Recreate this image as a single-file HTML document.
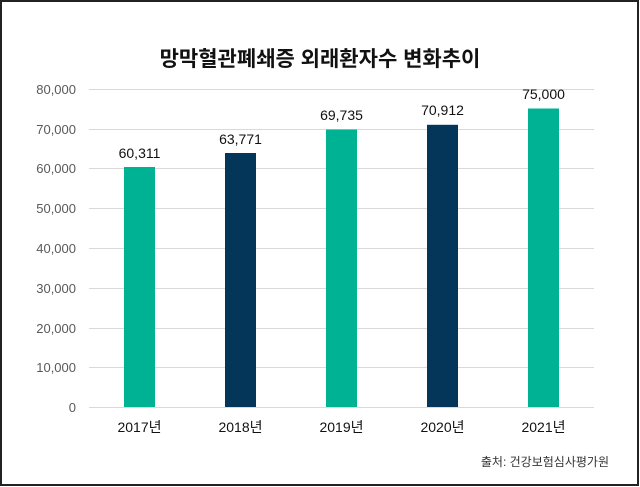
<!DOCTYPE html>
<html><head><meta charset="utf-8"><style>
html,body{margin:0;padding:0;background:#fff}
svg{display:block}
text{font-family:"Liberation Sans","Noto Sans CJK KR",sans-serif}
</style></head><body>
<svg width="640" height="487" viewBox="0 0 640 487" xmlns="http://www.w3.org/2000/svg">
<rect x="1" y="1" width="637" height="484" fill="#fff" stroke="#222" stroke-width="2"/>
<text x="320" y="66" text-anchor="middle" font-size="21" font-weight="bold" fill="#111">망막혈관폐쇄증 외래환자수 변화추이</text>
<g stroke="#d9d9d9" stroke-width="1">
<line x1="89" x2="594" y1="89.5" y2="89.5"/>
<line x1="89" x2="594" y1="129.5" y2="129.5"/>
<line x1="89" x2="594" y1="168.5" y2="168.5"/>
<line x1="89" x2="594" y1="208.5" y2="208.5"/>
<line x1="89" x2="594" y1="248.5" y2="248.5"/>
<line x1="89" x2="594" y1="288.5" y2="288.5"/>
<line x1="89" x2="594" y1="328.5" y2="328.5"/>
<line x1="89" x2="594" y1="367.5" y2="367.5"/>
<line x1="89" x2="594" y1="407.5" y2="407.5"/>
</g>
<g font-size="13" fill="#595959" text-anchor="end">
<text x="76" y="94">80,000</text>
<text x="76" y="134">70,000</text>
<text x="76" y="173">60,000</text>
<text x="76" y="213">50,000</text>
<text x="76" y="253">40,000</text>
<text x="76" y="293">30,000</text>
<text x="76" y="333">20,000</text>
<text x="76" y="372">10,000</text>
<text x="76" y="412">0</text>
</g>
<rect x="124" y="167" width="31" height="240" fill="#00b294"/>
<rect x="225" y="153" width="31" height="254" fill="#033659"/>
<rect x="326" y="129.5" width="31" height="277.5" fill="#00b294"/>
<rect x="427" y="124.8" width="31" height="282.2" fill="#033659"/>
<rect x="528" y="108.5" width="31" height="298.5" fill="#00b294"/>
<g font-size="14" fill="#111" text-anchor="middle">
<text x="139.5" y="158">60,311</text>
<text x="240.5" y="144">63,771</text>
<text x="341.5" y="120">69,735</text>
<text x="442.5" y="115">70,912</text>
<text x="543.5" y="99">75,000</text>
</g>
<g font-size="14" fill="#111" text-anchor="middle">
<text x="139.5" y="432">2017년</text>
<text x="240.5" y="432">2018년</text>
<text x="341.5" y="432">2019년</text>
<text x="442.5" y="432">2020년</text>
<text x="543.5" y="432">2021년</text>
</g>
<text x="609" y="466" text-anchor="end" font-size="12" fill="#333">출처: 건강보험심사평가원</text>
</svg>
</body></html>
